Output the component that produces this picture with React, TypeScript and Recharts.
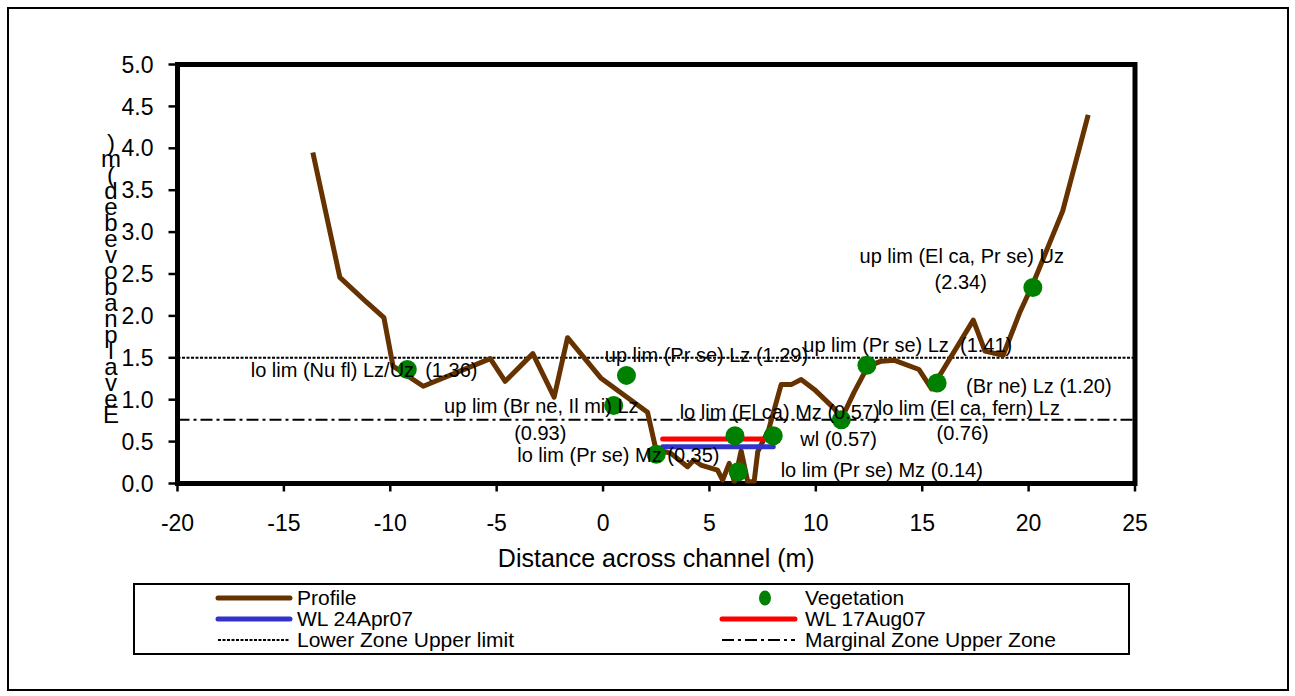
import { ComposedChart, Line, Scatter, XAxis, YAxis, ReferenceLine, ReferenceArea, Legend } from 'recharts'

const FONT = "'Liberation Sans', Arial, sans-serif"

// profile of the channel bed
const profileX = [
  -13.64, -12.37, -11.1, -10.3, -9.87, -8.45, -5.3, -4.6, -3.3, -2.3, -1.67, -0.11, 2.09, 2.48,
  3.19, 3.97, 4.27, 4.6, 5.38, 5.62, 5.93, 6.17, 6.49, 6.8, 7.1, 7.27, 7.78, 8.37, 8.84, 9.31, 9.94,
  10.88, 11.2, 11.8, 12.45, 13.08, 13.7, 14.85, 15.44, 17.4, 17.95, 18.8, 19.6, 20.2, 21.6, 22.8,
]
const profileY = [
  3.95, 2.46, 2.16, 1.98, 1.4, 1.16, 1.49, 1.22, 1.55, 1.03, 1.74, 1.26, 0.85, 0.41,
  0.36, 0.2, 0.28, 0.22, 0.16, 0.04, 0.24, 0.02, 0.39, 0.02, 0.02, 0.38, 0.64, 1.18, 1.18, 1.24, 1.12,
  0.89, 0.77, 1.09, 1.4, 1.46, 1.47, 1.36, 1.13, 1.95, 1.58, 1.53, 2.05, 2.38, 3.25, 4.4,
]

// vegetation limits
const vegX = [-9.2, 0.5, 1.1, 2.5, 6.2, 6.35, 8.0, 11.2, 12.4, 15.7, 20.2]
const vegY = [1.36, 0.93, 1.29, 0.35, 0.57, 0.14, 0.57, 0.76, 1.41, 1.2, 2.34]

// water levels
const wlAprX = [2.8, 8.0]
const wlAprY = 0.44
const wlAugX = [2.8, 7.7]
const wlAugY = 0.53

const LOWER_ZONE_LIMIT = 1.5
const MARGINAL_ZONE_LIMIT = 0.76

// annotation text, anchored in data units
const noteText = [
  'lo lim (Nu fl) Lz/Uz  (1.36)',
  'up lim (Pr se) Lz (1.29)',
  'up lim (Br ne, Il mi) Lz',
  '(0.93)',
  'lo lim (Pr se) Mz (0.35)',
  'lo lim (El ca) Mz (0.57)',
  'wl (0.57)',
  'lo lim (Pr se) Mz (0.14)',
  'lo lim (El ca, fern) Lz',
  '(0.76)',
  '(Br ne) Lz (1.20)',
  'up lim (Pr se) Lz  (1.41)',
  'up lim (El ca, Pr se) Uz',
  '(2.34)',
]
const noteX = [-11.23, 4.86, -2.9, -2.95, 0.72, 8.3, 11.07, 13.1, 17.19, 16.9, 20.48, 14.32, 16.86, 16.81]
const noteY = [1.27, 1.45, 0.84, 0.52, 0.26, 0.77, 0.45, 0.08, 0.82, 0.52, 1.08, 1.57, 2.63, 2.32]

const xTicks = [-20, -15, -10, -5, 0, 5, 10, 15, 20, 25]
const yTicks = [0, 0.5, 1, 1.5, 2, 2.5, 3, 3.5, 4, 4.5, 5]

// y title as drawn in the original: one glyph per line
const yTitleChars = [')', 'm', '(', 'd', 'e', 'b', 'e', 'v', 'o', 'b', 'a', 'n', 'p', 'l', 'a', 'v', 'e', 'E']

const profile = profileX.map((x, i) => ({ x, y: profileY[i] }))
const vegetation = vegX.map((x, i) => ({ x, y: vegY[i] }))
const wlApr = wlAprX.map((x) => ({ x, y: wlAprY }))
const wlAug = wlAugX.map((x) => ({ x, y: wlAugY }))
const notes = noteX.map((x, i) => ({ x, y: noteY[i], text: noteText[i] }))

const BROWN = '#663300'
const GREEN = '#008000'
const BLUE = '#3333CC'
const RED = '#FF0000'

function XTitle(props: any) {
  const vb = props.viewBox || {}
  return (
    <text x={vb.x + vb.width / 2} y={vb.y + 83} textAnchor="middle" fontSize={25} fontFamily={FONT} fill="#000">
      Distance across channel (m)
    </text>
  )
}

function YTitle() {
  return (
    <text fontSize={24} fontFamily={FONT} fill="#000" textAnchor="middle">
      {yTitleChars.map((c, i) => (
        <tspan key={i} x={102} y={142 + i * 16}>
          {c}
        </tspan>
      ))}
    </text>
  )
}

function Note(props: any) {
  const { cx, cy, payload } = props
  return (
    <text
      x={cx}
      y={cy}
      textAnchor="middle"
      fontSize={20}
      fontFamily={FONT}
      fill="#000"
      style={{ whiteSpace: 'pre' }}
    >
      {payload.text}
    </text>
  )
}

function VegDot(props: any) {
  return <circle cx={props.cx} cy={props.cy} r={9.5} fill={GREEN} />
}

function LegendBox() {
  const col1 = { x1: 85, x2: 157, text: 164 }
  const col2 = { x1: 589, x2: 662, text: 672 }
  const rows = [15, 36, 57]
  const t = (x: number, y: number, s: string) => (
    <text x={x} y={y + 7} fontSize={21} fontFamily={FONT} fill="#000">
      {s}
    </text>
  )
  return (
    <svg width={997} height={72} style={{ display: 'block' }}>
      <rect x={1} y={1} width={995} height={70} fill="#fff" stroke="#000" strokeWidth={2} />
      <line x1={col1.x1} x2={col1.x2} y1={rows[0]} y2={rows[0]} stroke={BROWN} strokeWidth={5} strokeLinecap="round" />
      {t(col1.text, rows[0], 'Profile')}
      <ellipse cx={632} cy={rows[0]} rx={6} ry={7.5} fill={GREEN} />
      {t(col2.text, rows[0], 'Vegetation')}
      <line x1={col1.x1} x2={col1.x2} y1={rows[1]} y2={rows[1]} stroke={BLUE} strokeWidth={5} strokeLinecap="round" />
      {t(col1.text, rows[1], 'WL 24Apr07')}
      <line x1={col2.x1} x2={col2.x2} y1={rows[1]} y2={rows[1]} stroke={RED} strokeWidth={5} strokeLinecap="round" />
      {t(col2.text, rows[1], 'WL 17Aug07')}
      <line x1={col1.x1} x2={col1.x2} y1={rows[2]} y2={rows[2]} stroke="#000" strokeWidth={2} strokeDasharray="3 1.5" />
      {t(col1.text, rows[2], 'Lower Zone Upper limit')}
      <line x1={col2.x1} x2={col2.x2} y1={rows[2]} y2={rows[2]} stroke="#000" strokeWidth={2} strokeDasharray="12 4 3 4" />
      {t(col2.text, rows[2], 'Marginal Zone Upper Zone')}
    </svg>
  )
}

export default function App() {
  return (
    <div
      style={{
        position: 'absolute',
        left: 7,
        top: 7,
        width: 1282,
        height: 684,
        border: '2px solid #000',
        boxSizing: 'border-box',
        background: '#fff',
        fontFamily: FONT,
      }}
    >
      <ComposedChart width={1278} height={660} margin={{ top: 55.5, right: 152, bottom: 115.5, left: 68.5 }}>
        <XAxis
          type="number"
          dataKey="x"
          domain={[-20, 25]}
          ticks={xTicks}
          allowDataOverflow
          height={70}
          tickSize={8}
          tickMargin={23}
          axisLine={false}
          tickLine={{ stroke: '#000', strokeWidth: 2.5 }}
          tick={{ fill: '#000', fontSize: 23, fontFamily: FONT }}
          label={<XTitle />}
        />
        <YAxis
          type="number"
          dataKey="y"
          domain={[0, 5]}
          ticks={yTicks}
          allowDataOverflow
          width={100}
          tickSize={9}
          tickMargin={15}
          axisLine={false}
          tickLine={{ stroke: '#000', strokeWidth: 2.5 }}
          tick={{ fill: '#000', fontSize: 23, fontFamily: FONT }}
          tickFormatter={(v: number) => v.toFixed(1)}
          label={<YTitle />}
        />
        <ReferenceLine y={LOWER_ZONE_LIMIT} stroke="#000" strokeWidth={2} strokeDasharray="3 1.5" />
        <ReferenceLine y={MARGINAL_ZONE_LIMIT} stroke="#000" strokeWidth={2} strokeDasharray="12 4 3 4" />
        <Line
          data={profile}
          dataKey="y"
          name="Profile"
          stroke={BROWN}
          strokeWidth={5}
          dot={false}
          strokeLinejoin="round"
          isAnimationActive={false}
        />
        <Line data={wlApr} dataKey="y" name="WL 24Apr07" stroke={BLUE} strokeWidth={5} strokeLinecap="round" dot={false} isAnimationActive={false} />
        <Line data={wlAug} dataKey="y" name="WL 17Aug07" stroke={RED} strokeWidth={5} strokeLinecap="round" dot={false} isAnimationActive={false} />
        <Scatter data={vegetation} dataKey="y" name="Vegetation" shape={<VegDot />} isAnimationActive={false} />
        <Scatter data={notes} dataKey="y" legendType="none" shape={<Note />} isAnimationActive={false} />
        <ReferenceArea x1={-20} x2={25} y1={0} y2={5} fill="none" stroke="#000" strokeWidth={5} ifOverflow="visible" />
        <Legend
          layout="horizontal"
          verticalAlign="middle"
          align="center"
          wrapperStyle={{ left: 124, top: 574, width: 997, height: 72 }}
          content={() => <LegendBox />}
        />
      </ComposedChart>
    </div>
  )
}
